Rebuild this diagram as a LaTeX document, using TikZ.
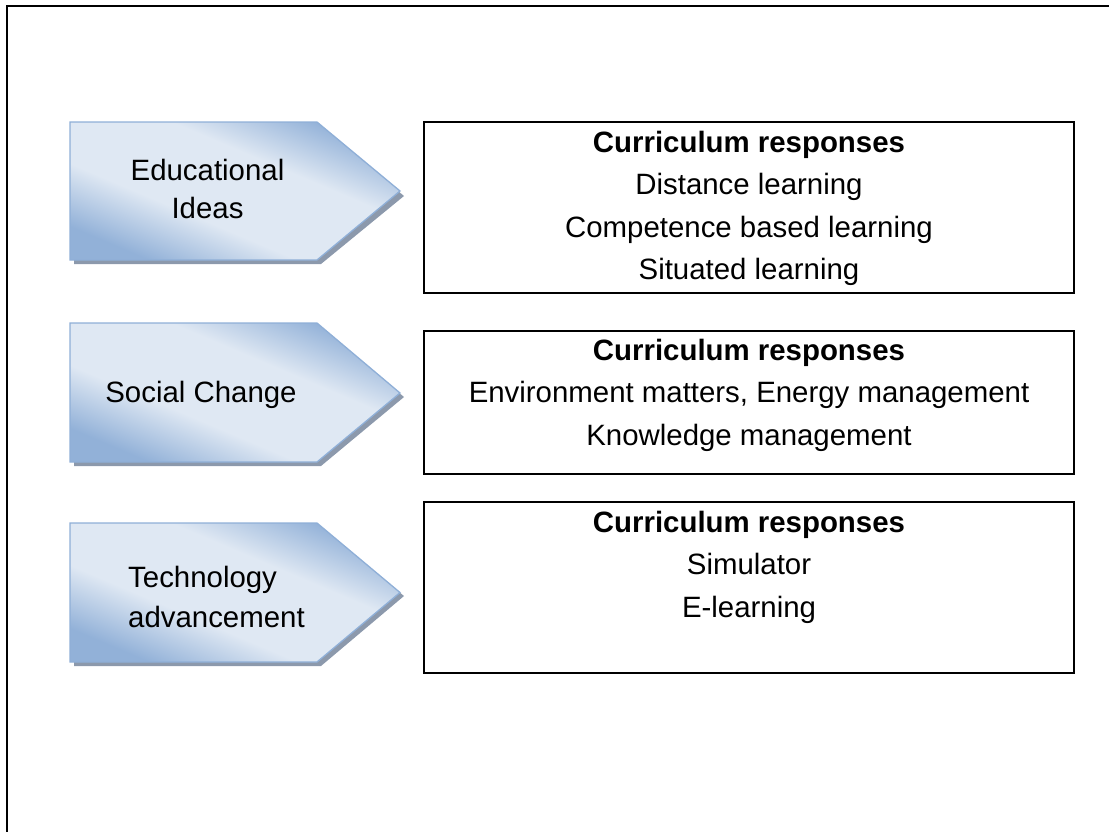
\documentclass[tikz,border=0pt]{standalone}
\usepackage{fontspec}
\setmainfont{Liberation Sans}
\definecolor{arrowdark}{RGB}{146,177,216}
\definecolor{arrowlight}{RGB}{223,232,243}
\definecolor{arrowborder}{RGB}{143,175,215}
\definecolor{shadowgray}{RGB}{140,153,172}
\pgfdeclareverticalshading{chevshade}{100bp}{
  color(0bp)=(arrowdark); color(25bp)=(arrowdark); color(40bp)=(arrowlight);
  color(60bp)=(arrowlight); color(75bp)=(arrowdark); color(100bp)=(arrowdark)}
\tikzset{
  chev/.style={draw=arrowborder, line width=1.3pt, line join=miter,
    shading=chevshade, shading angle=-23},
  chevshadow/.style={fill=shadowgray, draw=none},
  respbox/.style={draw=black, line width=1.6pt, minimum width=650pt, inner sep=0pt},
  txt/.style={font=\fontsize{29.4}{42.5}\selectfont, inner sep=0pt, anchor=base},
  txtb/.style={txt, font=\fontsize{29.4}{42.5}\selectfont\bfseries},
  frame/.style={draw=black, line width=2pt}
}
\begin{document}
\begin{tikzpicture}[x=1pt,y=-1pt]
\useasboundingbox (0,0) rectangle (1109,831);
% outer frame (cropped)
\coordinate (fa) at (7,840);
\coordinate (fb) at (7,6);
\coordinate (fc) at (1120,6);
\draw[frame] (fa) -- (fb) -- (fc);

% chevrons: shadows
\fill[chevshadow] (74,126) -- (321,126) -- (404,196) -- (321,264) -- (74,264) -- cycle;
\fill[chevshadow] (74,327) -- (321,327) -- (404,397) -- (321,466) -- (74,466) -- cycle;
\fill[chevshadow] (74,527) -- (321,527) -- (404,596) -- (321,666) -- (74,666) -- cycle;
% chevrons
\path[chev] (70,122) -- (317,122) -- (400,191) -- (317,260) -- (70,260) -- cycle;
\path[chev] (70,323) -- (317,323) -- (400,393) -- (317,462) -- (70,462) -- cycle;
\path[chev] (70,523) -- (317,523) -- (400,592.5) -- (317,662) -- (70,662) -- cycle;

\node[txt] (a1) at (207.5,180) {Educational};
\node[txt] (a1b) at (207.5,218) {Ideas};
\node[txt] (a2) at (201,402) {Social Change};
\node[txt, anchor=base west] (a3) at (128,587) {Technology};
\node[txt, anchor=base west] (a3b) at (128,627) {advancement};

% response boxes
\node[respbox, minimum height=171pt] (b1) at (749,207.5) {};
\node[respbox, minimum height=143pt] (b2) at (749,402.5) {};
\node[respbox, minimum height=171pt] (b3) at (749,587.5) {};

\node[txtb] (t1) at (749,152) {Curriculum responses};
\node[txt] (t1a) at (749,194.5) {Distance learning};
\node[txt] (t1b) at (749,237) {Competence based learning};
\node[txt] (t1c) at (749,279.5) {Situated learning};

\node[txtb] (t2) at (749,360) {Curriculum responses};
\node[txt] (t2a) at (749,402.5) {Environment matters, Energy management};
\node[txt] (t2b) at (749,445) {Knowledge management};

\node[txtb] (t3) at (749,532) {Curriculum responses};
\node[txt] (t3a) at (749,574.5) {Simulator};
\node[txt] (t3b) at (749,617) {E-learning};
\end{tikzpicture}
\end{document}
